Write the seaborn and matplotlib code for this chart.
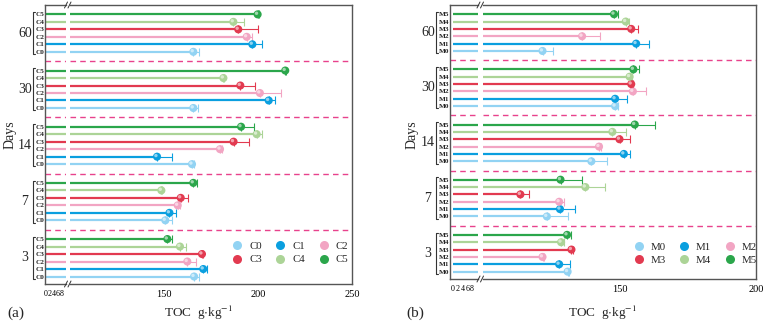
import numpy as np
import pandas as pd
import matplotlib
matplotlib.use("Agg")
import matplotlib.pyplot as plt
import seaborn as sns
from matplotlib.lines import Line2D
from matplotlib.transforms import offset_copy, blended_transform_factory

# Data (days 3, 7, 14, 30, 60)
days = [3, 7, 14, 30, 60]

a_groups = ["C0", "C1", "C2", "C3", "C4", "C5"]
a_mean = [
    [166.0, 150.7, 164.9, 165.6, 165.6],
    [170.9, 152.9, 146.3, 205.7, 197.0],
    [162.4, 157.3, 179.8, 201.0, 194.0],
    [170.2, 158.9, 187.0, 190.6, 189.5],
    [158.5, 148.6, 199.3, 181.6, 186.9],
    [151.8, 165.6, 191.0, 214.5, 199.8],
]
a_err = [
    [2.5, 3.3, 1.1, 2.4, 3.0],
    [1.8, 3.6, 7.7, 3.3, 5.0],
    [4.4, 1.2, 1.2, 11.0, 3.0],
    [0.5, 3.7, 8.0, 8.0, 10.3],
    [3.2, 0.5, 3.0, 0.5, 5.8],
    [2.2, 2.1, 6.9, 0.5, 0.5],
]

b_groups = ["M0", "M1", "M2", "M3", "M4", "M5"]
b_mean = [
    [131.0, 123.4, 139.7, 148.4, 121.8],
    [127.9, 128.2, 151.6, 148.4, 156.1],
    [121.8, 127.9, 142.5, 154.9, 136.3],
    [132.4, 113.7, 150.0, 154.3, 154.3],
    [128.6, 137.5, 147.4, 153.7, 152.3],
    [130.8, 128.4, 155.6, 155.1, 148.0],
]
b_err = [
    [0.6, 7.6, 5.6, 0.9, 3.9],
    [4.1, 5.4, 2.4, 4.3, 4.6],
    [0.5, 1.6, 0.7, 4.7, 6.6],
    [0.5, 3.2, 3.8, 0.5, 2.4],
    [1.2, 7.2, 4.8, 0.9, 1.0],
    [1.4, 7.7, 7.3, 1.9, 1.4],
]

colors = ["#92d3f3", "#0a9fdf", "#f2a5c3", "#e23a50", "#acd497", "#2ba64b"]
sep_color = "#e8428c"
spine_color = "#555555"

sns.set_style("white")
plt.rcParams["font.family"] = ["Liberation Serif", "DejaVu Serif"]
plt.rcParams["mathtext.fontset"] = "stix"

W, H = 767, 324
fig = plt.figure(figsize=(W / 100, H / 100), dpi=100)


def px_axes(x0, x1, ytop, ybot):
    return fig.add_axes([x0 / W, 1 - ybot / H, (x1 - x0) / W, (ybot - ytop) / H])


def draw_panel(groups, mean, err, small_box, main_box, ytop, ybot,
               small_xlim, main_xlim, major, minor, major_labels,
               day_x, brk_x, leg_center, letter, letter_x, ylabel_x, lab_size):
    rows = []
    for j, g in enumerate(groups):
        for k, d in enumerate(days):
            rows.append({"group": g, "day": d, "mean": mean[j][k],
                         "err": err[j][k], "y": k * 7.5 + j})
    df = pd.DataFrame(rows)

    axS = px_axes(small_box[0], small_box[1], ytop, ybot)
    axM = px_axes(main_box[0], main_box[1], ytop, ybot)
    ylim = (-1.0, 4 * 7.5 + 5 + 1.25)

    for ax in (axS, axM):
        for j, g in enumerate(groups):
            sub = df[df["group"] == g]
            ax.hlines(sub["y"], 0, sub["mean"], color=colors[j], lw=1.6, zorder=2)
        for k in range(4):
            ax.axhline(k * 7.5 + 6.25, color=sep_color, ls=(0, (4, 3)), lw=1.0, zorder=1)
        ax.set_ylim(*ylim)
        for s in ax.spines.values():
            s.set_color(spine_color)
            s.set_linewidth(1.0)
        ax.tick_params(axis="x", direction="in", colors=spine_color, labelcolor="black")

    # error bars (upper side only)
    for j, g in enumerate(groups):
        sub = df[df["group"] == g]
        axM.errorbar(sub["mean"], sub["y"], xerr=[np.zeros(len(sub)), sub["err"]],
                     fmt="none", ecolor=colors[j], elinewidth=0.8, capsize=3,
                     capthick=0.8, zorder=3)

    sns.scatterplot(data=df, x="mean", y="y", hue="group", palette=colors,
                    s=34, edgecolor="none", legend=False, ax=axM, zorder=4)
    hl = offset_copy(axM.transData, fig=fig, x=-0.8, y=0.8, units="points")
    axM.scatter(df["mean"], df["y"], s=6, color="white", alpha=0.55,
                edgecolor="none", transform=hl, zorder=5)
    axM.set_xlabel("")
    axM.set_ylabel("")

    axS.set_xlim(*small_xlim)
    axS.set_xticks([0, 2, 4, 6, 8])
    axS.set_xticks([1, 3, 5, 7, 9], minor=True)
    axS.set_xticklabels(["0", "2", "4", "6", "8"], fontsize=5.8)
    axS.tick_params(axis="x", which="major", length=3, width=0.7, pad=4)
    axS.tick_params(axis="x", which="minor", length=2, width=0.7, direction="in",
                    colors=spine_color)
    axS.spines["right"].set_visible(False)
    axS.set_yticks(df["y"])
    axS.set_yticklabels(df["group"], fontsize=lab_size, fontweight="bold")
    axS.tick_params(axis="y", length=0, pad=0.6)

    axM.set_xlim(*main_xlim)
    axM.set_xticks(major)
    axM.set_xticklabels(major_labels, fontsize=7.5)
    axM.set_xticks(minor, minor=True)
    axM.tick_params(axis="x", which="major", length=4, width=0.8, pad=4)
    axM.tick_params(axis="x", which="minor", length=2.5, width=0.8, direction="in",
                    colors=spine_color)
    axM.spines["left"].set_visible(False)
    axM.set_yticks([])

    # day labels and brackets
    tr = blended_transform_factory(fig.transFigure, axS.transData)
    for k, d in enumerate(days):
        y0, y1 = k * 7.5 - 0.3, k * 7.5 + 5.3
        fig.text(day_x / W, 0, str(d), transform=tr, fontsize=10,
                 ha="center", va="center").set_y(k * 7.5 + 2.5)
        fig.add_artist(Line2D([(brk_x + 2) / W, brk_x / W, brk_x / W, (brk_x + 2) / W],
                              [y0, y0, y1, y1], transform=tr, color="#333333", lw=0.8))

    # axis break marks
    gx = small_box[1]
    for ypx in (ytop, ybot):
        for dx in (0, 3.5):
            fig.add_artist(Line2D([(gx - 1 + dx) / W, (gx + 2 + dx) / W],
                                  [1 - (ypx + 3) / H, 1 - (ypx - 3) / H],
                                  transform=fig.transFigure, color="#333333", lw=0.7))

    cx = (small_box[0] + main_box[1]) / 2
    fig.text(cx / W, 1 - 313 / H, r"TOC  g$\cdot$kg$^{-1}$", fontsize=9.5,
             ha="center", va="center")
    fig.text(letter_x / W, 1 - 313 / H, letter, fontsize=11, ha="center", va="center")
    fig.text(ylabel_x / W, 1 - 135 / H, "Days", fontsize=10, rotation=90,
             ha="center", va="center")

    order = [0, 3, 1, 4, 2, 5]
    handles = [Line2D([], [], ls="none", marker="o", markersize=6.5,
                      markerfacecolor=colors[i], markeredgecolor="none",
                      label=groups[i]) for i in order]
    fig.legend(handles=handles, ncol=3, frameon=False, fontsize=7.8,
               loc="center", bbox_to_anchor=(leg_center[0] / W, 1 - leg_center[1] / H),
               handletextpad=0.6, columnspacing=1.2, labelspacing=0.35,
               handlelength=1.0, borderpad=0)


draw_panel(a_groups, a_mean, a_err, (45, 65.5), (70, 352), 5, 284,
           (-0.5, 10), (100, 250), [150, 200, 250], [125, 175, 225],
           ["150", "200", "250"], 25, 33, (290, 253), "(a)", 16, 10, 5.2)

draw_panel(b_groups, b_mean, b_err, (450, 478), (483, 756), 5, 279,
           (-1.2, 10.5), (100, 200), [150, 200], [125, 175],
           ["150", "200"], 428, 436, (695, 253.5), "(b)", 415, 412, 5.2)

fig.savefig("out.png", dpi=100)
